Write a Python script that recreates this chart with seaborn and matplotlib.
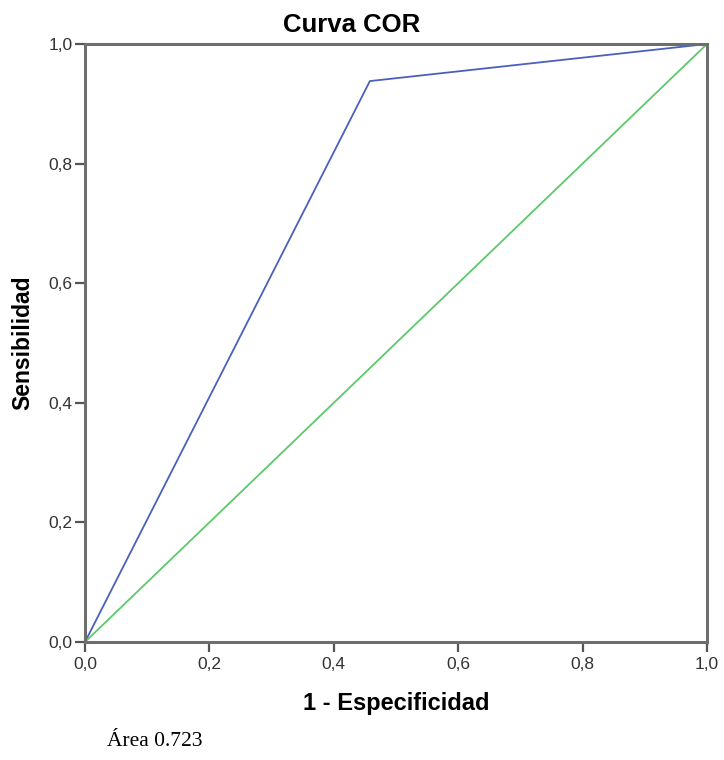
import pandas as pd
import seaborn as sns
import matplotlib.pyplot as plt

# --- DATA ---
fpr = [0.0, 0.458, 1.0]          # 1 - Especificidad
tpr = [0.0, 0.938, 1.0]          # Sensibilidad
ref_x = [0.0, 1.0]               # diagonal de referencia
ref_y = [0.0, 1.0]
ticks = [0.0, 0.2, 0.4, 0.6, 0.8, 1.0]
tick_labels = ['0,0', '0,2', '0,4', '0,6', '0,8', '1,0']
area_text = 'Área 0.723'

sns.set_theme(style='white')
plt.rcParams['font.family'] = ['Liberation Sans', 'DejaVu Sans']
plt.rcParams['text.color'] = 'black'
plt.rcParams['axes.labelcolor'] = 'black'

fig = plt.figure(figsize=(7.24, 7.6), dpi=100)
ax = fig.add_axes([85 / 724, 1 - 642 / 760, 622 / 724, 598 / 760])

roc = pd.DataFrame({'x': fpr, 'y': tpr})
diag = pd.DataFrame({'x': ref_x, 'y': ref_y})

sns.lineplot(data=roc, x='x', y='y', ax=ax, color='#4a60bc', linewidth=1.3,
             estimator=None, sort=False)
sns.lineplot(data=diag, x='x', y='y', ax=ax, color='#5cc96a', linewidth=1.3,
             estimator=None, sort=False)

ax.set_xlim(0, 1)
ax.set_ylim(0, 1)
ax.set_xticks(ticks)
ax.set_yticks(ticks)
ax.set_xticklabels(tick_labels)
ax.set_yticklabels(tick_labels)
ax.tick_params(axis='both', direction='out', length=7, width=1.6,
               color='#555555', labelsize=12.5, labelcolor='#333333', pad=2,
               bottom=True, left=True)
ax.tick_params(axis='x', pad=4)

for sp in ax.spines.values():
    sp.set_color('#6e6e6e')
    sp.set_linewidth(2.2)

ax.set_xlabel('1 - Especificidad', fontsize=17, fontweight='bold', labelpad=14)
ax.set_ylabel('Sensibilidad', fontsize=16.5, fontweight='bold', labelpad=10)

fig.text(352 / 724, 1 - 25 / 760, 'Curva COR', ha='center', va='center',
         fontsize=18.5, fontweight='bold')
fig.text(107 / 724, 1 - 741 / 760, area_text, ha='left', va='center',
         fontsize=15.5, family=['Liberation Serif', 'DejaVu Serif'])

fig.savefig('out.png', dpi=100)
